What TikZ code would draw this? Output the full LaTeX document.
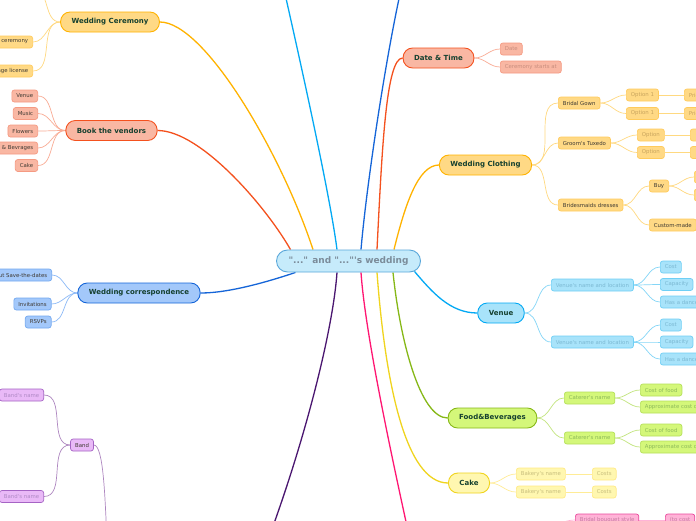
\documentclass[tikz,border=0pt]{standalone}
\usepackage{fontspec}
\setmainfont{DejaVu Sans}
\usetikzlibrary{backgrounds}
\definecolor{ofill}{HTML}{FFD985}
\definecolor{odraw}{HTML}{FFB300}
\definecolor{osub}{HTML}{FFCB5C}
\definecolor{oline}{HTML}{FFD980}
\definecolor{ofade}{HTML}{C9A55E}
\definecolor{rfill}{HTML}{F9B7A3}
\definecolor{rdraw}{HTML}{F4511E}
\definecolor{rsub}{HTML}{F59A82}
\definecolor{rline}{HTML}{F9AC95}
\definecolor{rfade}{HTML}{C98E7E}
\definecolor{bfill}{HTML}{A3C8FA}
\definecolor{bdraw}{HTML}{1565D8}
\definecolor{bsub}{HTML}{72A8F0}
\definecolor{bline}{HTML}{8DBAF7}
\definecolor{cfill}{HTML}{A8E3FA}
\definecolor{cdraw}{HTML}{03A9F4}
\definecolor{csub}{HTML}{6FCFF5}
\definecolor{cline}{HTML}{85D6F7}
\definecolor{cfade}{HTML}{7CB9D3}
\definecolor{gfill}{HTML}{D4F77A}
\definecolor{gdraw}{HTML}{86B817}
\definecolor{gsub}{HTML}{B5E05A}
\definecolor{gline}{HTML}{C3E57F}
\definecolor{gfade}{HTML}{8DBA5A}
\definecolor{yfill}{HTML}{FFF7B0}
\definecolor{ydraw}{HTML}{F0D41E}
\definecolor{ysub}{HTML}{FFEA85}
\definecolor{yline}{HTML}{FFEC96}
\definecolor{yfade}{HTML}{C8BF7E}
\definecolor{pfill}{HTML}{E9B9F7}
\definecolor{pdraw}{HTML}{A564C4}
\definecolor{pline}{HTML}{AE86C0}
\definecolor{pmain}{HTML}{4A1670}
\definecolor{pfade}{HTML}{B08AC6}
\definecolor{kfill}{HTML}{FFB3D7}
\definecolor{kdraw}{HTML}{E9489C}
\definecolor{kmain}{HTML}{FF1672}
\definecolor{kfade}{HTML}{C47C9E}
\definecolor{maintext}{HTML}{15402F}
\definecolor{subdark}{HTML}{3F3A33}
\definecolor{ctext}{HTML}{7B8C9A}
\definecolor{cfillc}{HTML}{C6EBFB}
\definecolor{cdrawc}{HTML}{5AA7DA}
\newcommand{\ap}{\textquotesingle}
\newcommand{\dq}{\textquotedbl}
\begin{document}
\begin{tikzpicture}[x=1pt,y=-1pt,
  cnode/.style={draw=cdrawc, fill=cfillc, rounded corners=11pt, line width=0.9pt,
    minimum height=22pt, inner xsep=12pt, inner ysep=0pt, text=ctext,
    font=\bfseries\fontsize{9}{10}\selectfont},
  mnode/.style 2 args={draw=#2, fill=#1, rounded corners=9.5pt, line width=0.9pt,
    minimum height=20pt, inner xsep=11pt, inner ysep=0pt, text=maintext,
    font=\bfseries\fontsize{7}{8}\selectfont},
  snode/.style 2 args={draw=#2, fill=#1, rounded corners=2.5pt, line width=0.7pt,
    minimum height=12pt, inner xsep=4.5pt, inner ysep=0pt, text=subdark,
    font=\fontsize{5.4}{6}\selectfont},
  mline/.style={draw=#1, line width=1.3pt},
  sline/.style={draw=#1, line width=0.7pt}]
\useasboundingbox (0,0) rectangle (696,520);

% central
\node[cnode] (c) at (348.5,261) {\dq...\dq{} and \dq...\dq\ap s wedding};

% main topics
\node[mnode={ofill}{odraw}] (cer) at (110,22) {Wedding Ceremony};
\node[mnode={rfill}{rdraw}] (ven) at (111.5,130.5) {Book the vendors};
\node[mnode={bfill}{bdraw}] (cor) at (139,293) {Wedding correspondence};
\node[mnode={rfill}{rdraw}] (dt) at (438.5,58) {Date \& Time};
\node[mnode={ofill}{odraw}] (clo) at (485.5,165) {Wedding Clothing};
\node[mnode={cfill}{cdraw}] (vn) at (501,313) {Venue};
\node[mnode={gfill}{gdraw}] (fb) at (492.5,418) {Food\&Beverages};
\node[mnode={yfill}{ydraw}] (ck) at (469,483) {Cake};

% ceremony children
\node[snode={ofill}{osub}, anchor=east, text width=70pt, align=right] (cer1) at (33,42) {ceremony};
\node[snode={ofill}{osub}, anchor=east] (cer2) at (33,71) {Marriage license};
\coordinate (certop) at (33,-12);

% vendors children
\node[snode={rfill}{rsub}, anchor=east] (v1) at (38,96) {Venue};
\node[snode={rfill}{rsub}, anchor=east] (v2) at (38,113.5) {Music};
\node[snode={rfill}{rsub}, anchor=east] (v3) at (38,131) {Flowers};
\node[snode={rfill}{rsub}, anchor=east] (v4) at (38,148) {Food \& Bevrages};
\node[snode={rfill}{rsub}, anchor=east] (v5) at (38,165.5) {Cake};

% correspondence children
\node[snode={bfill}{bsub}, anchor=east] (w1) at (52,275) {Send out Save-the-dates};
\node[snode={bfill}{bsub}, anchor=east] (w2) at (51.5,304) {Invitations};
\node[snode={bfill}{bsub}, anchor=east] (w3) at (51.5,322) {RSVPs};

% band
\node[snode={pfill}{pdraw}] (band) at (82,445) {Band};
\node[snode={pfill}{pdraw}, anchor=east, text=pfade] (bn1) at (44,395) {Band\ap s name};
\node[snode={pfill}{pdraw}, anchor=east, text=pfade] (bn2) at (44,496.5) {Band\ap s name};
\coordinate (bn1stub) at (-6,395);
\coordinate (bn2stub) at (-6,496.5);
\coordinate (bandend) at (107,540);

% date children
\node[snode={rfill}{rsub}, anchor=west, text=rfade] (d1) at (500,49) {Date};
\node[snode={rfill}{rsub}, anchor=west, text=rfade] (d2) at (500,67) {Ceremony starts at};

% clothing children
\node[snode={ofill}{osub}, anchor=west] (bg) at (558,103) {Bridal Gown};
\node[snode={ofill}{osub}, anchor=west] (gt) at (558,143) {Groom\ap s Tuxedo};
\node[snode={ofill}{osub}, anchor=west] (bd) at (558,205) {Bridesmaids dresses};
\node[snode={ofill}{osub}, anchor=west, text=ofade] (o1) at (626,95) {Option 1};
\node[snode={ofill}{osub}, anchor=west, text=ofade] (o2) at (626,113.5) {Option 1};
\node[snode={ofill}{osub}, anchor=west, text=ofade] (p1) at (684,95) {Price};
\node[snode={ofill}{osub}, anchor=west, text=ofade] (p2) at (684,113.5) {Price};
\node[snode={ofill}{osub}, anchor=west, text=ofade] (o3) at (637,135) {Option};
\node[snode={ofill}{osub}, anchor=west, text=ofade] (o4) at (637,152.5) {Option};
\node[snode={ofill}{osub}, anchor=west, minimum width=20pt] (e1) at (690,135) {};
\node[snode={ofill}{osub}, anchor=west, minimum width=20pt] (e2) at (690,152.5) {};
\node[snode={ofill}{osub}, anchor=west] (buy) at (649,186) {Buy};
\node[snode={ofill}{osub}, anchor=west] (cm) at (649,225) {Custom-made};
\node[snode={ofill}{osub}, anchor=west, minimum width=20pt] (b1) at (694,177) {};
\node[snode={ofill}{osub}, anchor=west, minimum width=20pt] (b2) at (694,195) {};

% venue children
\node[snode={cfill}{csub}, anchor=west, text=cfade] (vl1) at (551,285) {Venue\ap s name and location};
\node[snode={cfill}{csub}, anchor=west, text=cfade] (vl2) at (551,342) {Venue\ap s name and location};
\node[snode={cfill}{csub}, anchor=west, text=cfade] (c1) at (660,267) {Cost};
\node[snode={cfill}{csub}, anchor=west, text=cfade] (c2) at (660,284.5) {Capacity};
\node[snode={cfill}{csub}, anchor=west, text=cfade] (c3) at (660,302) {Has a dance floor};
\node[snode={cfill}{csub}, anchor=west, text=cfade] (c4) at (660,325) {Cost};
\node[snode={cfill}{csub}, anchor=west, text=cfade] (c5) at (660,342) {Capacity};
\node[snode={cfill}{csub}, anchor=west, text=cfade] (c6) at (660,359) {Has a dance floor};

% food children
\node[snode={gfill}{gsub}, anchor=west, text=gfade] (ct1) at (564,398) {Caterer\ap s name};
\node[snode={gfill}{gsub}, anchor=west, text=gfade] (ct2) at (564,438) {Caterer\ap s name};
\node[snode={gfill}{gsub}, anchor=west, text=gfade] (f1) at (640,390) {Cost of food};
\node[snode={gfill}{gsub}, anchor=west, text=gfade] (f2) at (640,407) {Approximate cost of drinks};
\node[snode={gfill}{gsub}, anchor=west, text=gfade] (f3) at (640,430) {Cost of food};
\node[snode={gfill}{gsub}, anchor=west, text=gfade] (f4) at (640,447) {Approximate cost of drinks};

% cake children
\node[snode={yfill}{ysub}, anchor=west, text=yfade] (bk1) at (516,474) {Bakery\ap s name};
\node[snode={yfill}{ysub}, anchor=west, text=yfade] (bk2) at (516,492) {Bakery\ap s name};
\node[snode={yfill}{ysub}, anchor=west, text=yfade] (cs1) at (592,474) {Costs};
\node[snode={yfill}{ysub}, anchor=west, text=yfade] (cs2) at (592,492) {Costs};

% pink
\node[snode={kfill}{kdraw}, anchor=west, text=kfade] (bq) at (575,520) {Bridal bouquet style};
\node[snode={kfill}{kdraw}, anchor=west, text=kfade] (tc) at (665,520) {(to cost};
\coordinate (bqend) at (548,535);

\coordinate (cyanend) at (283,-15);
\coordinate (blueend) at (402,-15);
\coordinate (purpend) at (268,540);
\coordinate (pinkend) at (410,540);

\begin{scope}[on background layer]
\fill[white] (0,0) rectangle (696,520);
% main connectors
\draw[mline=odraw] ([xshift=-35.5pt]c.north) .. controls (282,155) and (205,22) .. (cer.east);
\draw[mline=rdraw] ([xshift=-58pt]c.north) .. controls (265,205) and (200,130.5) .. (ven.east);
\draw[mline=cdraw] ([xshift=-11.5pt]c.north) .. controls (330,195) and (300,60) .. (cyanend);
\draw[mline=bdraw] ([xshift=12.5pt]c.north) .. controls (366,190) and (385,60) .. (blueend);
\draw[mline=rdraw] ([xshift=28.5pt]c.north) .. controls (382,150) and (386,58) .. (dt.west);
\draw[mline=odraw] ([xshift=45.5pt]c.north) .. controls (405,205) and (418,165) .. (clo.west);
\draw[mline=bdraw] ([xshift=-53pt]c.south) .. controls (270,281) and (230,293) .. (cor.east);
\draw[mline=pmain] ([xshift=-11.5pt]c.south) .. controls (333,330) and (305,440) .. (purpend);
\draw[mline=kmain] ([xshift=12.5pt]c.south) .. controls (365,330) and (388,440) .. (pinkend);
\draw[mline=ydraw] ([xshift=28.5pt]c.south) .. controls (385,380) and (405,483) .. (ck.west);
\draw[mline=gdraw] ([xshift=44.5pt]c.south) .. controls (400,340) and (420,418) .. (fb.west);
\draw[mline=cdraw] ([xshift=66pt,yshift=1pt]c.south) .. controls (432,292) and (450,313) .. (vn.west);

% ceremony
\draw[sline=oline] (cer.west) to[out=180,in=0] (cer1.east);
\draw[sline=oline] (cer.west) to[out=180,in=0] (cer2.east);
\draw[sline=oline] (cer.west) to[out=180,in=0] (certop);
% vendors
\foreach \n in {v1,v2,v3,v4,v5}
  \draw[sline=rline] (ven.west) to[out=180,in=0] (\n.east);
% correspondence
\foreach \n in {w1,w2,w3}
  \draw[sline=bline] (cor.west) to[out=180,in=0] (\n.east);
% band
\draw[sline=pline] (band.west) to[out=180,in=0] (bn1.east);
\draw[sline=pline] (band.west) to[out=180,in=0] (bn2.east);
\draw[sline=pline] (bn1.west) -- (bn1stub);
\draw[sline=pline] (bn2.west) -- (bn2stub);
\draw[sline=pline] (band.east) .. controls +(10,0) and +(-2,-40) .. (bandend);
% date
\draw[sline=rline] (dt.east) to[out=0,in=180] (d1.west);
\draw[sline=rline] (dt.east) to[out=0,in=180] (d2.west);
% clothing
\foreach \n in {bg,gt,bd}
  \draw[sline=oline] (clo.east) to[out=0,in=180] (\n.west);
\draw[sline=oline] (bg.east) to[out=0,in=180] (o1.west);
\draw[sline=oline] (bg.east) to[out=0,in=180] (o2.west);
\draw[sline=oline] (o1.east) -- (p1.west);
\draw[sline=oline] (o2.east) -- (p2.west);
\draw[sline=oline] (gt.east) to[out=0,in=180] (o3.west);
\draw[sline=oline] (gt.east) to[out=0,in=180] (o4.west);
\draw[sline=oline] (o3.east) -- (e1.west);
\draw[sline=oline] (o4.east) -- (e2.west);
\draw[sline=oline] (bd.east) to[out=0,in=180] (buy.west);
\draw[sline=oline] (bd.east) to[out=0,in=180] (cm.west);
\draw[sline=oline] (buy.east) to[out=0,in=180] (b1.west);
\draw[sline=oline] (buy.east) to[out=0,in=180] (b2.west);
% venue
\draw[sline=cline] (vn.east) to[out=0,in=180] (vl1.west);
\draw[sline=cline] (vn.east) to[out=0,in=180] (vl2.west);
\foreach \n in {c1,c2,c3}
  \draw[sline=cline] (vl1.east) to[out=0,in=180] (\n.west);
\foreach \n in {c4,c5,c6}
  \draw[sline=cline] (vl2.east) to[out=0,in=180] (\n.west);
% food
\draw[sline=gline] (fb.east) to[out=0,in=180] (ct1.west);
\draw[sline=gline] (fb.east) to[out=0,in=180] (ct2.west);
\draw[sline=gline] (ct1.east) to[out=0,in=180] (f1.west);
\draw[sline=gline] (ct1.east) to[out=0,in=180] (f2.west);
\draw[sline=gline] (ct2.east) to[out=0,in=180] (f3.west);
\draw[sline=gline] (ct2.east) to[out=0,in=180] (f4.west);
% cake
\draw[sline=yline] (ck.east) to[out=0,in=180] (bk1.west);
\draw[sline=yline] (ck.east) to[out=0,in=180] (bk2.west);
\draw[sline=yline] (bk1.east) -- (cs1.west);
\draw[sline=yline] (bk2.east) -- (cs2.west);
% pink
\draw[sline=kfill] (bq.east) -- (tc.west);
\draw[sline=kfill] (bq.west) .. controls +(-10,0) and +(5,-10) .. (bqend);
\end{scope}
\end{tikzpicture}
\end{document}
